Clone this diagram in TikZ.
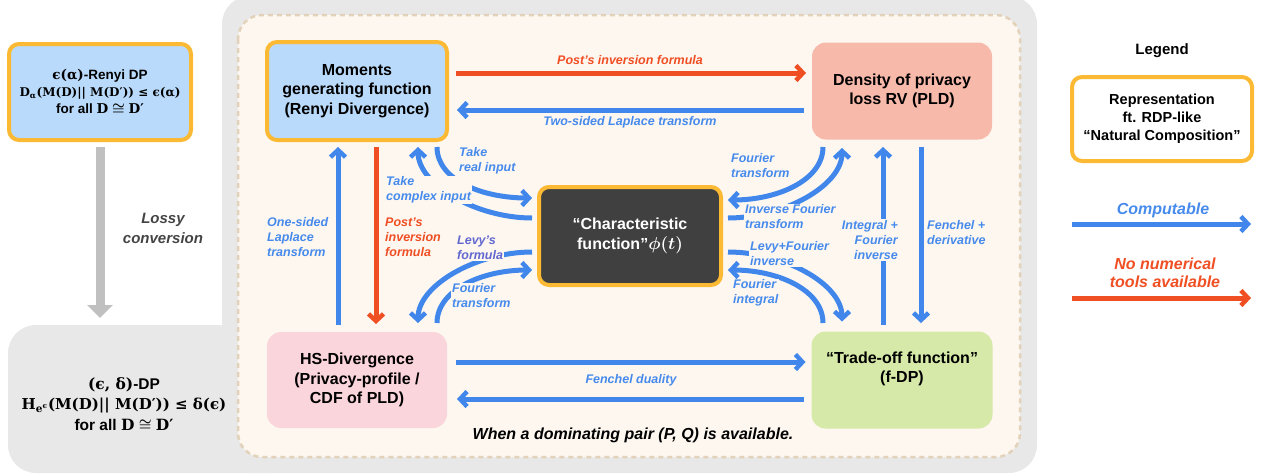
\documentclass[tikz,border=0pt]{standalone}
\usepackage[no-math]{fontspec}
\setmainfont{Liberation Sans}
\newfontfamily\mser{DejaVu Serif}
\usepackage{amsmath,amssymb}
\usetikzlibrary{arrows.meta}
\definecolor{bluea}{RGB}{64,134,235}
\definecolor{bluet}{RGB}{70,138,236}
\definecolor{reda}{RGB}{240,78,35}
\definecolor{purt}{RGB}{98,104,208}
\definecolor{orangeb}{RGB}{252,186,52}
\definecolor{mgfc}{RGB}{185,218,250}
\definecolor{pldc}{RGB}{247,185,170}
\definecolor{hsc}{RGB}{251,213,220}
\definecolor{tofc}{RGB}{214,233,168}
\definecolor{cfc}{RGB}{64,64,64}
\definecolor{beige}{RGB}{253,247,240}
\definecolor{dashc}{RGB}{226,210,185}
\definecolor{graybg}{RGB}{232,232,232}
\definecolor{grayar}{RGB}{192,192,192}
\definecolor{lossyc}{RGB}{68,68,68}
\begin{document}
\begin{tikzpicture}[x=1pt,y=-1pt,
  base/.style={font=\bfseries\fontsize{16}{19.5}\selectfont, align=center, text=black},
  rep/.style={base, draw=orangeb, line width=4pt, rounded corners=10pt},
  plainbox/.style={base, rounded corners=14pt, outer sep=0pt},
  lbl/.style={font=\bfseries\itshape\fontsize{12.5}{15}\selectfont, text=bluet, inner sep=1pt, align=left},
  lblf/.style={lbl, fill=beige},
  barrow/.style={draw=bluea, line width=5pt, -{Straight Barb[length=7pt,width=15pt,line width=4.5pt]}},
  rarrow/.style={barrow, draw=reda},
]
\useasboundingbox (0,0) rectangle (1261,475);
% backgrounds
\fill[graybg, rounded corners=28pt] (222,-4) rectangle (1037,473);
\fill[graybg, rounded corners=28pt] (8,325) rectangle (300,473);
\draw[dashc, line width=2.5pt, dash pattern=on 5pt off 4pt, fill=beige, rounded corners=24pt] (238,15) rectangle (1020,457);

% left column
\node[rep, fill=mgfc, minimum width=182pt, minimum height=96pt, font=\bfseries\fontsize{13.5}{17}\selectfont] (rdp) at (100,92)
  {{\mser ϵ(α)}-Renyi DP\\ {\mser\fontsize{12}{17}\selectfont D\textsubscript{α}(M(D)|| M(D′)) ≤ ϵ(α)}\\ for all {\mser D} {\boldmath$\cong$} {\mser D′}};
\node[base, font=\bfseries\fontsize{15.5}{20.5}\selectfont] (edp) at (124,404)
  {{\mser (ϵ, δ)}-DP\\ {\mser\fontsize{15}{20.5}\selectfont H\textsubscript{e\textsuperscript{ϵ}}(M(D)|| M(D′)) ≤ δ(ϵ)}\\ for all {\mser D} {\boldmath$\cong$} {\mser D′}};
\draw[line width=9pt, grayar, -{Triangle[length=13pt,width=25pt]}] ([yshift=-5pt]rdp.south) -- ([yshift=-176pt]rdp.south);
\node[font=\bfseries\itshape\fontsize{15}{20}\selectfont, text=lossyc, align=center] (lossy) at (163,228) {Lossy\\conversion};

% main nodes
\node[rep, fill=mgfc, minimum width=180pt, minimum height=98pt] (mgf) at (357,91) {Moments\\generating function\\(Renyi Divergence)};
\node[plainbox, fill=pldc, minimum width=180pt, minimum height=97pt] (pld) at (902,91) {Density of privacy\\loss RV (PLD)};
\node[rep, fill=cfc, minimum width=182pt, minimum height=98pt, text=white, font=\bfseries\fontsize{16}{19.5}\selectfont] (cf) at (630,236) {“Characteristic\\function”{\boldmath$\phi(t)$}};
\node[plainbox, fill=hsc, minimum width=180pt, minimum height=96pt] (hs) at (357,380) {HS-Divergence\\(Privacy-profile /\\CDF of PLD)};
\node[plainbox, fill=tofc, minimum width=181pt, minimum height=97pt] (tof) at (902,380) {“Trade-off function”\\(f-DP)\\[6pt]};

% straight connectors
\draw[rarrow] ([xshift=7pt,yshift=18pt]mgf.east) -- ([xshift=-6pt,yshift=18pt]pld.west);
\draw[barrow] ([xshift=-8pt,yshift=-19pt]pld.west) -- ([xshift=8pt,yshift=-19pt]mgf.east);
\draw[barrow] ([xshift=9pt,yshift=18pt]hs.east) -- ([xshift=-6pt,yshift=18pt]tof.west);
\draw[barrow] ([xshift=-8pt,yshift=-19pt]tof.west) -- ([xshift=10pt,yshift=-19pt]hs.east);
\draw[barrow] ([xshift=-19pt,yshift=7pt]hs.north) -- ([xshift=-19pt,yshift=-5pt]mgf.south);
\draw[rarrow] ([xshift=19pt,yshift=-5pt]mgf.south) -- ([xshift=19pt,yshift=8pt]hs.north);
\draw[barrow] ([xshift=-19pt,yshift=7pt]tof.north) -- ([xshift=-19pt,yshift=-7.5pt]pld.south);
\draw[barrow] ([xshift=19pt,yshift=-7.5pt]pld.south) -- ([xshift=19pt,yshift=8.5pt]tof.north);

% curved connectors, left
\draw[barrow] ([xshift=80pt,yshift=-5pt]mgf.south) .. controls +(0,33) and +(-50,0) .. ([xshift=-5pt,yshift=38pt]cf.west);
\draw[barrow] ([xshift=-5pt,yshift=18pt]cf.west) .. controls +(-55,0) and +(0,38) .. ([xshift=61pt,yshift=-5pt]mgf.south);
\draw[barrow] ([xshift=-5pt,yshift=-16pt]cf.west) .. controls +(-55,0) and +(0,-38) .. ([xshift=61pt,yshift=9pt]hs.north);
\draw[barrow] ([xshift=80pt,yshift=9pt]hs.north) .. controls +(0,-33) and +(-50,0) .. ([xshift=-5pt,yshift=-34pt]cf.west);
% curved connectors, right
\draw[barrow] ([xshift=-79pt,yshift=-7.5pt]pld.south) .. controls +(0,33) and +(50,0) .. ([xshift=5pt,yshift=36pt]cf.east);
\draw[barrow] ([xshift=5pt,yshift=18pt]cf.east) .. controls +(55,0) and +(0,38) .. ([xshift=-60pt,yshift=-8.5pt]pld.south);
\draw[barrow] ([xshift=5pt,yshift=-16pt]cf.east) .. controls +(55,0) and +(0,-38) .. ([xshift=-60pt,yshift=10pt]tof.north);
\draw[barrow] ([xshift=-79pt,yshift=8.5pt]tof.north) .. controls +(0,-33) and +(50,0) .. ([xshift=5pt,yshift=-34pt]cf.east);

% labels
\node[lbl, text=reda, align=center] (l1) at (630,60) {Post’s inversion formula};
\node[lbl, align=center] (l2) at (630,122) {Two-sided Laplace transform};
\node[lbl, align=center] (l3) at (631,380) {Fenchel duality};
\node[font=\bfseries\itshape\fontsize{16}{19}\selectfont] (l4) at (633,435) {When a dominating pair (P, Q) is available.};
\node[lbl, anchor=west] (l5) at (266,237) {One-sided\\Laplace\\transform};
\node[lbl, anchor=west, text=reda] (l6) at (384,237) {Post’s\\inversion\\formula};
\node[lblf, anchor=west] (l7) at (385,190) {Take\\complex input};
\node[lbl, anchor=west] (l8) at (458,161) {Take\\real input};
\node[lblf, anchor=west, text=purt] (l9) at (456,248) {Levy’s\\formula};
\node[lblf, anchor=west] (l10) at (451,296) {Fourier\\transform};
\node[lbl, anchor=west] (l11) at (730,166) {Fourier\\transform};
\node[lblf, anchor=west] (l12) at (744,217) {Inverse Fourier\\transform};
\node[lblf, anchor=west] (l13) at (749,254) {Levy+Fourier\\inverse};
\node[lblf, anchor=west] (l14) at (732,293) {Fourier\\integral};
\node[lblf, anchor=east, align=right] (l15) at (899,240) {Integral +\\Fourier\\inverse};
\node[lbl, anchor=west] (l16) at (926,233) {Fenchel +\\derivative};

% legend
\node[base, font=\bfseries\fontsize{15}{18}\selectfont] (leg) at (1162,51) {Legend};
\node[rep, fill=white, minimum width=180pt, minimum height=84pt, font=\bfseries\fontsize{14.5}{18}\selectfont] (legbox) at (1162,119) {Representation\\ft. RDP-like\\“Natural Composition”};
\node[font=\bfseries\itshape\fontsize{16}{18}\selectfont, text=bluet] (lc) at (1163,210) {Computable};
\coordinate (lca) at (1072,224);
\coordinate (lcb) at (1251,224);
\draw[barrow] (lca) -- (lcb);
\node[font=\bfseries\itshape\fontsize{16}{18}\selectfont, text=reda, align=center] (ln) at (1165,273) {No numerical\\tools available};
\coordinate (lna) at (1072,298);
\coordinate (lnb) at (1251,298);
\draw[rarrow] (lna) -- (lnb);
\end{tikzpicture}
\end{document}
